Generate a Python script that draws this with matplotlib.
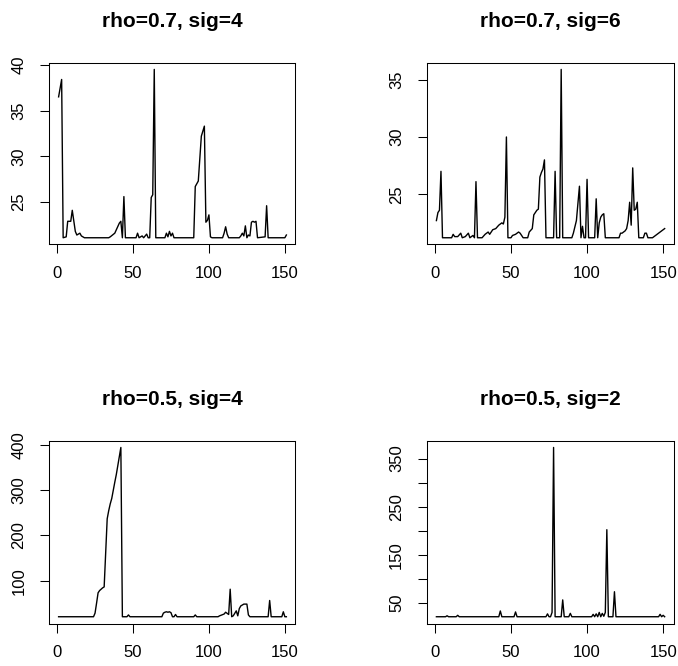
import matplotlib
matplotlib.use('Agg')
import matplotlib.pyplot as plt

# values; t = time index, y = value at that index
# (only the corner points of each trace are listed, the line joins them)

# rho=0.7, sig=4
tl_t = [1, 3, 4, 6, 7, 9, 10, 12, 13, 14, 15, 16, 18, 34, 35, 38, 41, 42, 43, 44,
        45, 52, 53, 54, 56, 57, 59, 60, 61, 62, 63, 64, 65, 71, 72, 73, 74, 75, 76, 77,
        90, 91, 93, 95, 97, 98, 99, 100, 101, 102, 109, 110, 111, 112, 113, 120, 121, 122, 123, 124,
        125, 126, 127, 128, 129, 130, 131, 132, 137, 138, 139, 150, 151]
tl_y = [36.5, 38.4, 21.1, 21.2, 22.9, 22.9, 24.1, 21.8, 21.4, 21.5, 21.6, 21.3, 21.1, 21.1, 21.2, 21.6, 22.7, 22.9, 21.1, 25.6,
        21.1, 21.1, 21.6, 21.1, 21.3, 21.1, 21.5, 21.1, 21.1, 25.5, 25.8, 39.5, 21.1, 21.1, 21.6, 21.2, 21.8, 21.3, 21.6, 21.1,
        21.1, 26.7, 27.3, 32.2, 33.3, 22.8, 23.0, 23.6, 21.2, 21.1, 21.1, 21.6, 22.3, 21.5, 21.1, 21.1, 21.3, 21.6, 21.3, 22.4,
        21.1, 21.4, 21.3, 22.8, 22.9, 22.8, 22.9, 21.1, 21.2, 24.6, 21.1, 21.1, 21.4]

# rho=0.7, sig=6
tr_t = [1, 2, 3, 4, 5, 11, 12, 13, 15, 17, 18, 20, 22, 23, 25, 26, 27, 28, 31, 33,
        35, 36, 38, 40, 42, 44, 45, 46, 47, 48, 50, 51, 53, 55, 56, 58, 61, 62, 64, 65,
        66, 67, 68, 69, 70, 71, 72, 73, 78, 79, 80, 82, 83, 84, 90, 91, 93, 95, 96, 97,
        98, 99, 100, 101, 105, 106, 107, 108, 109, 110, 111, 112, 121, 122, 123, 125, 126, 127, 128, 129,
        130, 131, 132, 133, 134, 137, 138, 139, 140, 143, 151]
tr_y = [22.7, 23.4, 23.6, 27.0, 21.2, 21.2, 21.5, 21.3, 21.3, 21.6, 21.2, 21.3, 21.6, 21.2, 21.4, 21.2, 26.1, 21.2, 21.2, 21.5,
        21.7, 21.5, 21.9, 22.0, 22.3, 22.5, 22.4, 23.0, 30.0, 21.2, 21.2, 21.4, 21.5, 21.7, 21.6, 21.2, 21.2, 21.7, 22.0, 23.2,
        23.4, 23.6, 23.7, 26.5, 26.9, 27.2, 28.0, 21.2, 21.2, 27.0, 21.2, 21.2, 35.9, 21.2, 21.2, 21.6, 22.7, 25.7, 21.2, 22.2,
        21.2, 21.2, 26.3, 21.2, 21.2, 24.6, 21.2, 22.5, 23.0, 23.2, 23.3, 21.2, 21.2, 21.6, 21.6, 21.8, 22.0, 22.7, 24.3, 22.3,
        27.3, 23.6, 23.7, 24.3, 21.2, 21.2, 21.6, 21.6, 21.2, 21.2, 22.0]

# rho=0.5, sig=4
bl_t = [1, 24, 25, 26, 27, 28, 29, 30, 31, 33, 34, 35, 36, 37, 38, 39, 40, 41, 42, 43,
        46, 47, 48, 69, 70, 71, 72, 73, 74, 75, 76, 77, 78, 79, 90, 91, 92, 106, 107, 110,
        111, 113, 114, 115, 116, 118, 119, 120, 121, 122, 123, 125, 126, 127, 139, 140, 141, 148, 149, 150,
        151]
bl_y = [20, 20, 28, 50, 73, 78, 81, 84, 86, 237, 255, 270, 282, 300, 318, 335, 355, 375, 395, 20,
        20, 24, 20, 20, 28, 30, 31, 30, 31, 29, 20, 20, 25, 20, 20, 24, 20, 20, 22, 26,
        30, 25, 81, 20, 22, 33, 22, 38, 44, 46, 48, 48, 24, 20, 20, 56, 20, 20, 31, 20,
        20]

# rho=0.5, sig=2
br_t = [1, 7, 8, 9, 14, 15, 16, 42, 43, 44, 52, 53, 54, 73, 74, 75, 76, 77, 78, 79,
        83, 84, 85, 88, 89, 90, 103, 104, 105, 106, 107, 108, 109, 110, 111, 112, 113, 114, 117, 118,
        119, 147, 148, 149, 150, 151]
br_y = [21, 21, 23, 21, 21, 24, 21, 21, 33, 21, 21, 31, 21, 21, 27, 21, 21, 30, 373, 21,
        21, 56, 21, 21, 28, 21, 21, 26, 21, 27, 21, 30, 21, 28, 22, 30, 202, 21, 21, 73,
        21, 21, 26, 21, 24, 21]

titles = ['rho=0.7, sig=4', 'rho=0.7, sig=6', 'rho=0.5, sig=4', 'rho=0.5, sig=2']
x_ticks = [0, 50, 100, 150]
tl_yticks = [25, 30, 35, 40]
tr_yticks = [25, 30, 35]
bl_yticks = [100, 200, 300, 400]
br_yticks = [50, 100, 150, 200, 250, 300, 350]
br_ylabels = ['50', '', '150', '', '250', '', '350']

plt.rcParams['font.family'] = ['Liberation Sans', 'DejaVu Sans']

fig = plt.figure(figsize=(6.78, 6.66), dpi=100)

panels = [
    (titles[0], tl_t, tl_y, tl_yticks, [str(v) for v in tl_yticks], [0.0730, 0.6329, 0.3628, 0.2730]),
    (titles[1], tr_t, tr_y, tr_yticks, [str(v) for v in tr_yticks], [0.6302, 0.6329, 0.3636, 0.2730]),
    (titles[2], bl_t, bl_y, bl_yticks, [str(v) for v in bl_yticks], [0.0730, 0.0638, 0.3628, 0.2745]),
    (titles[3], br_t, br_y, br_yticks, br_ylabels, [0.6302, 0.0638, 0.3636, 0.2745]),
]

for title, t, y, yt, ylab, rect in panels:
    ax = fig.add_axes(rect)
    ax.plot(t, y, color='black', lw=1.0)
    ax.margins(0.04)
    ax.set_xticks(x_ticks)
    ax.set_yticks(yt)
    ax.set_yticklabels(ylab, rotation=90, va='center', ha='center')
    ax.tick_params(direction='out', length=6.5, width=0.75, labelsize=12)
    ax.tick_params(axis='x', pad=9)
    ax.tick_params(axis='y', pad=15.5)
    for s in ax.spines.values():
        s.set_linewidth(0.75)
    ax.set_title(title, fontsize=15, fontweight='bold', pad=26)

fig.savefig('out.png', dpi=100)
